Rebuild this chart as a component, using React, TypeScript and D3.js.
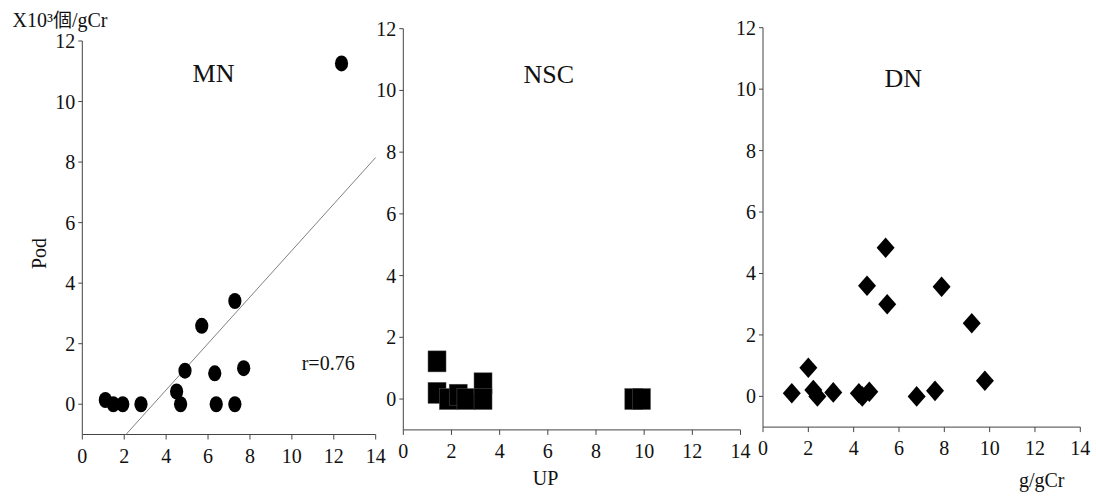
import React from "react";
import * as d3 from "d3";

// ---- data ----
const mnX = [1.1, 1.48, 1.93, 2.8, 4.5, 4.69, 4.9, 5.7, 6.32, 6.39, 7.28, 7.28, 7.7, 12.37];
const mnY = [0.14, 0.0, 0.0, 0.0, 0.42, 0.0, 1.11, 2.59, 1.02, 0.0, 3.41, 0.0, 1.19, 11.26];

const nscX = [1.4, 1.4, 1.87, 2.28, 2.6, 3.31, 3.31, 9.57, 9.89];
const nscY = [1.22, 0.2, 0.0, 0.14, 0.0, 0.51, 0.0, 0.0, 0.0];

const dnX = [1.27, 2.0, 2.22, 2.4, 3.1, 4.23, 4.38, 4.69, 4.59, 5.41, 5.48, 6.78, 7.59, 7.88, 9.21, 9.79];
const dnY = [0.1, 0.93, 0.21, 0.0, 0.13, 0.1, 0.0, 0.15, 3.6, 4.84, 3.0, 0.0, 0.18, 3.57, 2.38, 0.51];

const xTicks = [0, 2, 4, 6, 8, 10, 12, 14];
const yTicks = [0, 2, 4, 6, 8, 10, 12];
const xDomain = [0, 14];
const yDomain = [-1, 12];

const regSlope = 0.768;
const regIntercept = -2.6;
const rLabel = "r=0.76";

const titles = ["MN", "NSC", "DN"];
const yUnitPre = "X10³";
const yUnitCJK = "個";
const yUnitPost = "/gCr";
const yAxisLabel = "Pod";
const xMidLabel = "UP";
const xUnitLabel = "g/gCr";

// ---- layout ----
const W = 1096;
const H = 503;
const FONT = "Liberation Serif, DejaVu Serif, serif";
const CJK = "Noto Sans CJK JP, Noto Sans CJK SC, sans-serif";
const AXIS = "#444";
const INK = "#111";

type Panel = {
  x0: number; x1: number; yBot: number; yTop: number;
  title: string; tx: number; ty: number;
  xs: number[]; ys: number[]; shape: "ellipse" | "square" | "diamond";
};

const panels: Panel[] = [
  { x0: 82.3, x1: 375.7, yBot: 434.5, yTop: 41, title: titles[0], tx: 213.5, ty: 82, xs: mnX, ys: mnY, shape: "ellipse" },
  { x0: 403.3, x1: 740.5, yBot: 429.9, yTop: 28.7, title: titles[1], tx: 548.8, ty: 82.7, xs: nscX, ys: nscY, shape: "square" },
  { x0: 763, x1: 1080.3, yBot: 427.1, yTop: 27.7, title: titles[2], tx: 903.3, ty: 86.7, xs: dnX, ys: dnY, shape: "diamond" },
];

function PanelView({ p, idx }: { p: Panel; idx: number }) {
  const x = d3.scaleLinear().domain(xDomain).range([p.x0, p.x1]);
  const y = d3.scaleLinear().domain(yDomain).range([p.yBot, p.yTop]);
  const pts = p.xs.map((v, i) => [v, p.ys[i]] as [number, number]);

  let reg: React.ReactNode = null;
  if (idx === 0) {
    const xa = Math.max(xDomain[0], (yDomain[0] - regIntercept) / regSlope);
    const xb = Math.min(xDomain[1], (yDomain[1] - regIntercept) / regSlope);
    const line = d3.line<number>().x((v) => x(v)).y((v) => y(regSlope * v + regIntercept));
    reg = <path d={line([xa, xb]) || ""} stroke="#808080" strokeWidth={1} fill="none" />;
  }

  return (
    <g>
      <line x1={p.x0} x2={p.x0} y1={p.yBot} y2={y(12)} stroke={AXIS} strokeWidth={1} />
      <line x1={p.x0} x2={p.x1} y1={p.yBot} y2={p.yBot} stroke={AXIS} strokeWidth={1} />
      {yTicks.map((t) => (
        <g key={"y" + t}>
          <line x1={p.x0 - 4} x2={p.x0} y1={y(t)} y2={y(t)} stroke={AXIS} strokeWidth={1} />
          <text x={p.x0 - 7} y={y(t)} dy="0.35em" textAnchor="end" fontSize={20} fontFamily={FONT} fill={INK}>{t}</text>
        </g>
      ))}
      {xTicks.map((t) => (
        <g key={"x" + t}>
          <line x1={x(t)} x2={x(t)} y1={p.yBot} y2={p.yBot + 5} stroke={AXIS} strokeWidth={1} />
          <text x={x(t)} y={p.yBot + 28} textAnchor="middle" fontSize={20} fontFamily={FONT} fill={INK}>{t}</text>
        </g>
      ))}
      <text x={p.tx} y={p.ty} textAnchor="middle" fontSize={26} fontFamily={FONT} fill={INK}>{p.title}</text>
      {reg}
      {pts.map(([a, b], i) => {
        const cx = x(a);
        const cy = y(b);
        if (p.shape === "ellipse") return <ellipse key={i} cx={cx} cy={cy} rx={6.6} ry={8} fill="#000" />;
        if (p.shape === "square") return <rect key={i} x={cx - 9} y={cy - 10.5} width={18} height={21} fill="#000" stroke="#555" strokeWidth={0.5} />;
        return <path key={i} d={`M${cx},${cy - 10.3}L${cx + 9},${cy}L${cx},${cy + 10.3}L${cx - 9},${cy}Z`} fill="#000" />;
      })}
    </g>
  );
}

export default function App() {
  return (
    <div style={{ position: "absolute", left: 0, top: 0 }}>
      <svg width={W} height={H} viewBox={`0 0 ${W} ${H}`} style={{ display: "block", background: "#fff" }}>
        <rect x={0} y={0} width={W} height={H} fill="#fff" />
        {panels.map((p, i) => <PanelView key={i} p={p} idx={i} />)}
        <text x={12.5} y={26.5} fontSize={20} fontFamily={FONT} fill={INK}>
          {yUnitPre}
          <tspan fontFamily={CJK} fontSize={19}>{yUnitCJK}</tspan>
          {yUnitPost}
        </text>
        <text transform="translate(46,253.5) rotate(-90)" textAnchor="middle" fontSize={20} fontFamily={FONT} fill={INK}>{yAxisLabel}</text>
        <text x={301.7} y={370} fontSize={20} fontFamily={FONT} fill={INK}>{rLabel}</text>
        <text x={545.5} y={485} textAnchor="middle" fontSize={20} fontFamily={FONT} fill={INK}>{xMidLabel}</text>
        <text x={1041.7} y={486.5} textAnchor="middle" fontSize={20} fontFamily={FONT} fill={INK}>{xUnitLabel}</text>
      </svg>
    </div>
  );
}
